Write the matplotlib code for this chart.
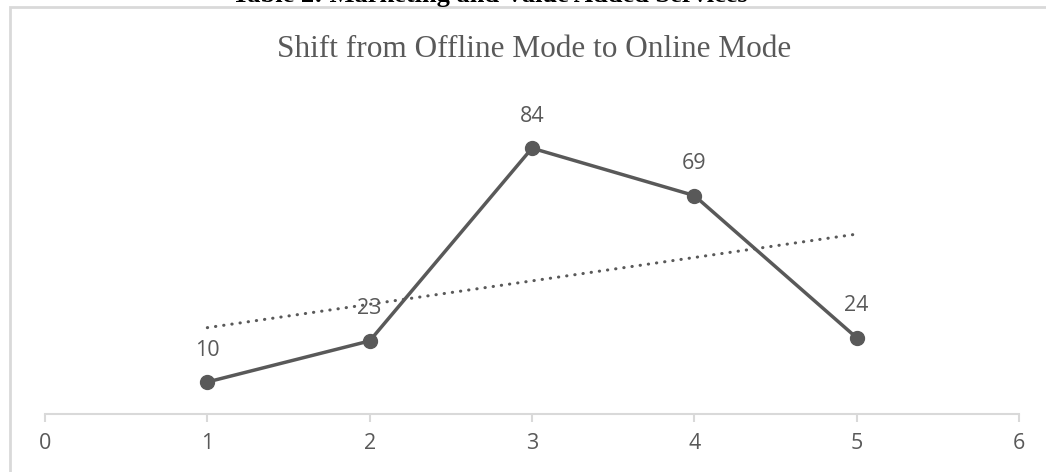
import matplotlib.pyplot as plt
from matplotlib.patches import Rectangle
import numpy as np

# data
x_vals = [1, 2, 3, 4, 5]
y_vals = [10, 23, 84, 69, 24]
x_ticks = [0, 1, 2, 3, 4, 5, 6]

header = "Table 2: Marketing and Value Added Services"
title = "Shift from Offline Mode to Online Mode"

line_col = "#595959"
grey = "#d9d9d9"

fig = plt.figure(figsize=(10.46, 4.72), dpi=100)

# chart border (only top/left visible)
fig.patches.append(Rectangle((10 / 1046, -0.1), 1.2, 1 - 7 / 472 + 0.1,
                             transform=fig.transFigure, fill=False,
                             edgecolor=grey, linewidth=2))

fig.text(490 / 1046, 1 - 2 / 472, header, ha="center", va="baseline",
         family="Liberation Serif", weight="bold", fontsize=19, color="black")
fig.text(534 / 1046, 1 - 57 / 472, title, ha="center", va="baseline",
         family="Liberation Serif", fontsize=22.5, color=line_col)

ax = fig.add_axes([45 / 1046, 1 - 413.6 / 472, (1019 - 45) / 1046, 316 / 472])
ax.set_xlim(0, 6)
ax.set_ylim(0, 100)

ax.plot(x_vals, y_vals, color=line_col, linewidth=2.5, marker="o",
        markersize=10, zorder=3)

# linear trendline
slope, intercept = np.polyfit(x_vals, y_vals, 1)
tx = np.array([x_vals[0], x_vals[-1]])
ax.plot(tx, slope * tx + intercept, color=line_col, linewidth=2.2,
        linestyle=(0, (0.1, 2.6)), dash_capstyle="round", zorder=2)

for xv, yv in zip(x_vals, y_vals):
    ax.annotate(str(yv), (xv, yv), xytext=(0, 23), textcoords="offset points",
                ha="center", va="center", fontsize=15.5, color=line_col,
                family="Open Sans")

for s in ["top", "right", "left"]:
    ax.spines[s].set_visible(False)
ax.spines["bottom"].set_color(grey)
ax.spines["bottom"].set_linewidth(1.5)
ax.set_yticks([])
ax.set_xticks(x_ticks)
ax.tick_params(axis="x", colors=grey, length=6, width=1.5, pad=8)
for lbl in ax.get_xticklabels():
    lbl.set_color(line_col)
    lbl.set_fontsize(15.5)
    lbl.set_family("Open Sans")

fig.savefig("out.png", dpi=100)
